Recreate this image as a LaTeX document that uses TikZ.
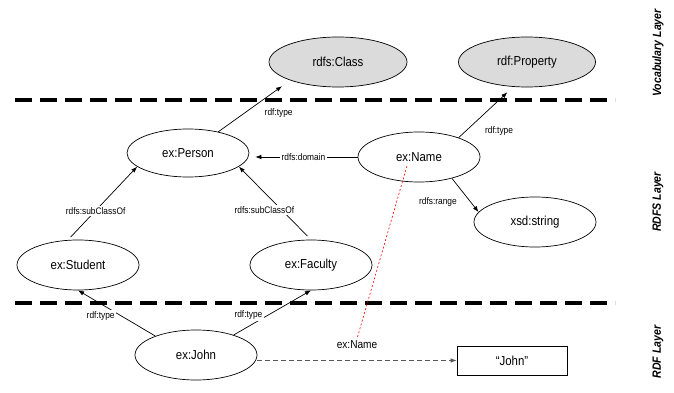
\documentclass[tikz,border=0pt]{standalone}
\usepackage{fontspec}
\setmainfont[FakeStretch=0.88]{Liberation Sans}
\usetikzlibrary{shapes.geometric,arrows.meta,positioning}
\definecolor{vocgray}{gray}{0.86}
\begin{document}
\begin{tikzpicture}[x=1pt,y=-1pt,n/.style={ellipse,draw,line width=0.7pt,minimum width=122pt,minimum height=50pt,inner sep=0pt,font=\fontsize{13}{15}\selectfont},v/.style={n,fill=vocgray,minimum width=138pt},lit/.style={rectangle,draw,line width=0.7pt,minimum width=110pt,minimum height=29pt,inner sep=0pt,font=\fontsize{13}{15}\selectfont},e/.style={draw,line width=0.7pt,-{Latex[length=6pt,width=4.5pt]}},t/.style={rectangle,draw=none,fill=white,inner sep=1.5pt,font=\fontsize{9.5}{11}\selectfont},nl/.style={rectangle,draw=none,inner sep=1pt,font=\fontsize{11.5}{13}\selectfont},sepline/.style={draw,line width=4pt,dash pattern=on 17pt off 8pt},lyr/.style={rotate=90,font=\fontsize{12}{14}\selectfont\bfseries\itshape}]

\useasboundingbox (0,0) rectangle (674,393);

\node[v] (cls) at (338,62) {rdfs:Class};
\node[v, minimum width=137pt] (prop) at (527,62) {rdf:Property};
\node[n, minimum height=48pt] (person) at (188,153) {ex:Person};
\node[n] (name) at (419,157) {ex:Name};
\node[n] (str) at (535,222) {xsd:string};
\node[n] (student) at (78,265) {ex:Student};
\node[n] (faculty) at (311,265) {ex:Faculty};
\node[n] (john) at (196,355) {ex:John};
\node[lit] (jlit) at (512,360.5) {“John”};

\path[sepline] (15,99.7) -- (615,99.7);
\path[sepline] (15,302.5) -- (615,302.5);

\node[lyr] (vocab) at (658,53) {Vocabulary Layer};
\node[lyr] (rdfs) at (658,202) {RDFS Layer};
\node[lyr] (rdf) at (658,352) {RDF Layer};

\path[e, shorten >=10pt] (person.35) -- (cls.201) node[t, pos=.37, right=18pt] {rdf:type};
\path[e, shorten >=8pt] (name.26) -- (prop.241) node[t, pos=.14, right=17pt] {rdf:type};
\path[e, shorten >=6pt] (name.west) -- (name.west -| person.east) node[t, pos=.5] {rdfs:domain};
\path[e] (name.327) -- (str.170) node[t, pos=.7, left=12pt] {rdfs:range};
\path[e, shorten <=4pt] (student.112) -- (person.195) node[t, pos=.4] {rdfs:subClassOf};
\path[e, shorten <=5pt] (faculty.north) -- (person.345) node[t, pos=.41, xshift=-17pt] {rdfs:subClassOf};
\path[e] (john.155) -- (student.south) node[t, pos=.5, xshift=-16pt, yshift=-3pt] {rdf:type};
\path[e] (john.28) -- (faculty.south) node[t, pos=.45, xshift=-20pt] {rdf:type};
\path[e, draw=black!65, dash pattern=on 5pt off 3pt] (john.east |- jlit) -- (jlit.west) node[nl, above=11pt, pos=.5] (exname) {ex:Name};
\path[draw=red, line width=0.6pt, dash pattern=on 2pt off 2pt] ([shift={(-12,9)}]name.center) -- (exname.north);

\end{tikzpicture}
\end{document}
